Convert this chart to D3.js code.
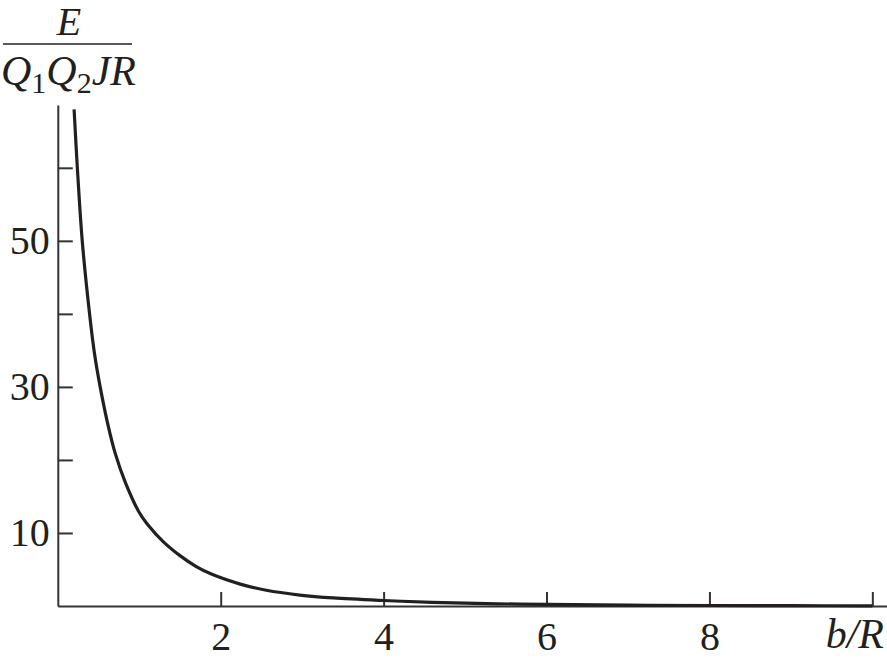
<!DOCTYPE html>
<html>
<head>
<meta charset="utf-8">
<script src="https://cdn.jsdelivr.net/npm/d3@7"></script>
<style>
  html, body { margin: 0; padding: 0; background: #fff; }
  svg { display: block; }
  .tick text { font-family: "Liberation Serif", "DejaVu Serif", serif; fill: #231f20; }
</style>
</head>
<body>
<div id="chart"></div>
<script>
// b/R values
const bR = [0.2, 0.24, 0.3, 0.39, 0.45, 0.52, 0.62, 0.705, 0.83, 1.0, 1.1, 1.3, 1.5, 1.7, 1.9,
  2.24, 2.56, 2.97, 3.38, 4.0, 4.6, 5.4, 6.0, 7.0, 8.0, 9.0, 10.0];
// E / (Q1 Q2 J R)
const energy = [68, 60, 50, 40, 34.6, 30, 24.6, 20.9, 16.9, 12.8, 11.2, 8.75, 6.9, 5.4, 4.3,
  3.0, 2.15, 1.5, 1.1, 0.75, 0.5, 0.3, 0.21, 0.12, 0.07, 0.04, 0.025];

const xTicks = [2, 4, 6, 8, 10];
const xTickLabels = ["2", "4", "6", "8", ""];
const yTicks = [10, 20, 30, 40, 50, 60];
const yTickLabels = ["10", "", "30", "", "50", ""];

const width = 887, height = 659;
const ink = "#231f20";
const serif = '"Liberation Serif", "DejaVu Serif", serif';

const svg = d3.select("#chart").append("svg")
  .attr("width", width)
  .attr("height", height);

const x = d3.scaleLinear().domain([0, 10.18]).range([57.8, 887]);
const y = d3.scaleLinear().domain([0, 68.6]).range([606, 105]);

// x axis, ticks pointing up into the plot
svg.append("g")
  .attr("transform", `translate(0,${y(0)})`)
  .call(d3.axisBottom(x)
    .tickValues(xTicks)
    .tickSizeInner(-14)
    .tickSizeOuter(0)
    .tickPadding(16)
    .tickFormat((d, i) => xTickLabels[i]))
  .call(g => g.select(".domain").attr("stroke", "#333").attr("stroke-width", 2))
  .call(g => g.selectAll(".tick line").attr("stroke", "#333").attr("stroke-width", 2))
  .call(g => g.selectAll(".tick text").attr("font-size", 40).attr("dy", "0.71em"));

// y axis, ticks pointing right into the plot
svg.append("g")
  .attr("transform", `translate(${x(0)},0)`)
  .call(d3.axisLeft(y)
    .tickValues(yTicks)
    .tickSizeInner(-15)
    .tickSizeOuter(0)
    .tickPadding(8)
    .tickFormat((d, i) => yTickLabels[i]))
  .call(g => g.select(".domain").attr("stroke", "#333").attr("stroke-width", 2))
  .call(g => g.selectAll(".tick line").attr("stroke", "#333").attr("stroke-width", 2))
  .call(g => g.selectAll(".tick text").attr("font-size", 40));

// curve
const line = d3.line()
  .x((d, i) => x(bR[i]))
  .y(d => y(d))
  .curve(d3.curveCatmullRom.alpha(0.5));

svg.append("path")
  .datum(energy)
  .attr("d", line)
  .attr("fill", "none")
  .attr("stroke", ink)
  .attr("stroke-width", 3.2);

// x axis title
svg.append("text")
  .attr("x", 884)
  .attr("y", 648)
  .attr("text-anchor", "end")
  .attr("font-family", serif)
  .attr("font-style", "italic")
  .attr("font-size", 42)
  .attr("fill", ink)
  .text("b/R");

// y axis title as a fraction
svg.append("text")
  .attr("x", 69)
  .attr("y", 35)
  .attr("text-anchor", "middle")
  .attr("font-family", serif)
  .attr("font-style", "italic")
  .attr("font-size", 40)
  .attr("fill", ink)
  .text("E");

svg.append("line")
  .attr("x1", 3).attr("x2", 132)
  .attr("y1", 44).attr("y2", 44)
  .attr("stroke", ink)
  .attr("stroke-width", 1.6);

const denom = svg.append("text")
  .attr("x", 1)
  .attr("y", 85)
  .attr("font-family", serif)
  .attr("font-size", 42)
  .attr("fill", ink);

[["Q", true, 0], ["1", false, 8], ["Q", true, -8], ["2", false, 8], ["JR", true, -8]]
  .forEach(([t, it, dy]) => {
    denom.append("tspan")
      .attr("font-style", it ? "italic" : "normal")
      .attr("font-size", it ? 42 : 30)
      .attr("dy", dy)
      .text(t);
  });
</script>
</body>
</html>
